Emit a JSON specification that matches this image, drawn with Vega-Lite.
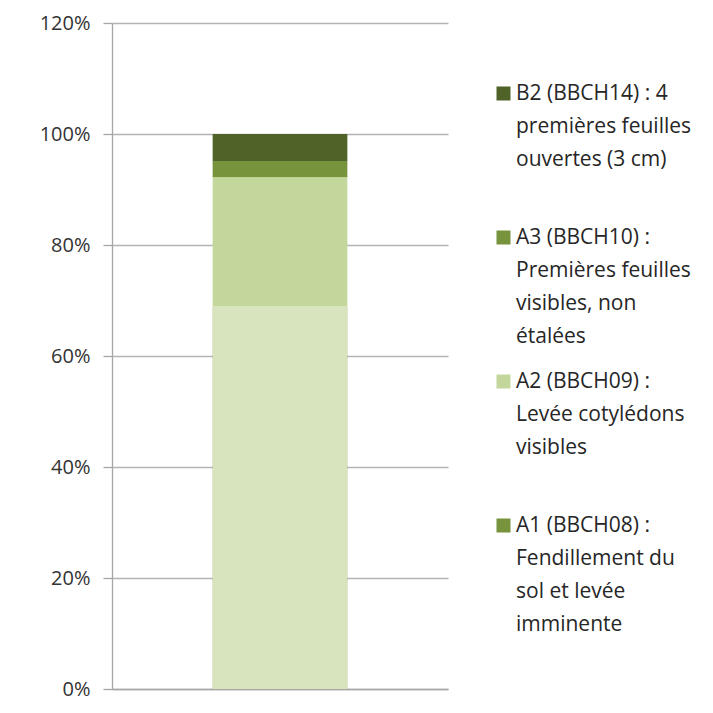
{
  "$schema": "https://vega.github.io/schema/vega-lite/v6.json",
  "autosize": "none",
  "width": 336,
  "height": 666,
  "padding": {"left": 112, "top": 23, "right": 265, "bottom": 24},
  "background": "white",
  "config": {"view": {"stroke": null}, "font": "Open Sans"},
  "data": {"values": [
    {"groupe": "Parcelle", "stade": "B2 (BBCH14) : 4|premières feuilles|ouvertes (3 cm)|", "rang": 4, "part": 0.049},
    {"groupe": "Parcelle", "stade": "A3 (BBCH10) :|Premières feuilles|visibles, non|étalées", "rang": 3, "part": 0.029},
    {"groupe": "Parcelle", "stade": "A2 (BBCH09) :|Levée cotylédons|visibles|", "rang": 2, "part": 0.232},
    {"groupe": "Parcelle", "stade": "A1 (BBCH08) :|Fendillement du|sol et levée|imminente", "rang": 1, "part": 0.69}
  ]},
  "encoding": {
    "x": {"field": "groupe", "type": "nominal", "scale": {"paddingInner": 0.6, "paddingOuter": 0.3},
      "axis": {"labels": false, "ticks": false, "title": null, "domain": true, "domainColor": "#A6A6A6", "domainWidth": 1.3}},
    "y": {"field": "part", "type": "quantitative", "stack": "zero",
      "scale": {"domain": [0, 1.2], "nice": false},
      "axis": {"format": ".0%", "values": [0, 0.2, 0.4, 0.6, 0.8, 1.0, 1.2], "title": null,
        "grid": true, "gridColor": "#B3B3B3", "gridWidth": 1.3,
        "domainColor": "#A6A6A6", "domainWidth": 1.3, "tickColor": "#A6A6A6", "tickSize": 9, "tickWidth": 1.3,
        "labelFontSize": 20, "labelColor": "#333333", "labelPadding": 13, "labelFont": "Open Sans"}},
    "order": {"field": "rang", "type": "quantitative"}
  },
  "layer": [
    {
      "mark": {"type": "bar"},
      "encoding": {
        "color": {"field": "stade", "type": "nominal",
          "scale": {"domain": ["B2 (BBCH14) : 4|premières feuilles|ouvertes (3 cm)|", "A3 (BBCH10) :|Premières feuilles|visibles, non|étalées", "A2 (BBCH09) :|Levée cotylédons|visibles|", "A1 (BBCH08) :|Fendillement du|sol et levée|imminente"],
            "range": ["#4F6228", "#77933C", "#C3D69B", "#77933C"]},
          "legend": {"title": null, "orient": "none", "legendX": 381, "legendY": 60,
            "labelExpr": "split(datum.label, '|')", "labelLimit": 0, "labelFontSize": 21, "labelFont": "Open Sans",
            "labelColor": "#262626", "labelBaseline": "middle", "labelOffset": 2,
            "symbolType": "square", "symbolSize": 196, "symbolStrokeWidth": 0, "symbolOpacity": 1,
            "rowPadding": 23,
            "encode": {"labels": {"update": {"lineHeight": {"value": 33}}}}}}
      }
    },
    {
      "mark": {"type": "bar"},
      "encoding": {
        "fill": {"field": "stade", "type": "nominal",
          "scale": {"domain": ["B2 (BBCH14) : 4|premières feuilles|ouvertes (3 cm)|", "A3 (BBCH10) :|Premières feuilles|visibles, non|étalées", "A2 (BBCH09) :|Levée cotylédons|visibles|", "A1 (BBCH08) :|Fendillement du|sol et levée|imminente"],
            "range": ["#4F6228", "#77933C", "#C3D69B", "#D7E4BD"]},
          "legend": null}
      }
    }
  ]
}
